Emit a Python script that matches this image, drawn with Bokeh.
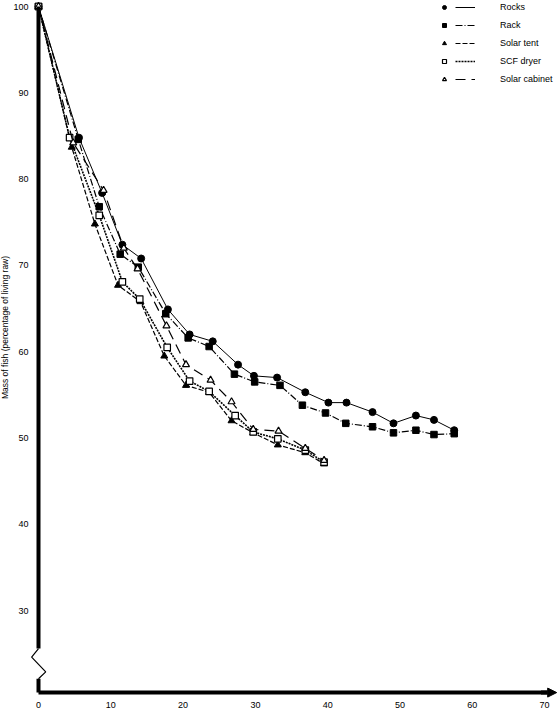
from bokeh.plotting import figure
from bokeh.models import (Range1d, FixedTicker, Legend, LegendItem, Arrow,
                          NormalHead, LinearAxis)
from bokeh.embed import file_html
from bokeh.resources import INLINE

# ---------------- data (time in hours, mass in % of living raw fish) -------------
rocks_t = [0, 5.6, 8.8, 11.6, 14.2, 17.9, 20.9, 24.1, 27.6, 29.8, 33.0, 36.9, 40.1, 42.6, 46.2, 49.1, 52.2, 54.7, 57.5]
rocks_m = [100, 84.8, 78.4, 72.4, 70.8, 64.9, 62.0, 61.2, 58.5, 57.2, 57.0, 55.3, 54.1, 54.1, 53.0, 51.7, 52.6, 52.1, 50.9]

rack_t = [0, 5.5, 8.4, 11.3, 13.8, 17.6, 20.7, 23.6, 27.1, 29.9, 33.4, 36.5, 39.7, 42.5, 46.2, 49.1, 52.2, 54.7, 57.5]
rack_m = [100, 84.6, 76.8, 71.3, 69.8, 64.4, 61.6, 60.6, 57.4, 56.5, 56.1, 53.8, 52.9, 51.7, 51.3, 50.6, 50.9, 50.4, 50.5]

tent_t = [0, 4.6, 7.8, 11.0, 14.1, 17.4, 20.4, 23.6, 26.7, 29.7, 33.1, 36.9, 39.5]
tent_m = [100, 83.7, 74.8, 67.7, 65.8, 59.5, 56.1, 55.3, 52.0, 50.6, 49.2, 48.3, 47.0]

scf_t = [0, 4.3, 8.4, 11.6, 14.0, 17.8, 20.9, 23.6, 27.2, 29.7, 33.1, 36.9, 39.5]
scf_m = [100, 84.8, 75.8, 68.1, 66.1, 60.5, 56.6, 55.4, 52.6, 50.7, 49.9, 48.6, 47.2]

cab_t = [0, 4.8, 9.0, 11.8, 13.7, 17.7, 20.4, 23.8, 26.7, 29.7, 33.2, 36.9, 39.5]
cab_m = [100, 84.2, 78.7, 72.0, 69.6, 63.0, 58.5, 56.7, 54.2, 51.0, 50.8, 48.8, 47.4]

series_names = ["Rocks", "Rack", "Solar tent", "SCF dryer", "Solar cabinet"]
x_ticks = [0, 10, 20, 30, 40, 50, 60, 70]
y_ticks = [30, 40, 50, 60, 70, 80, 90, 100]
y_axis_title = "Mass of fish (percentage of living raw)"

# ---------------- layout -------------------------------------------------------
W, H = 558, 715
x0_px, xscale = 38.0, 7.23       # pixel of x=0, pixels per hour
y100_px, yscale = 6.0, 8.63      # pixel of y=100 from top, pixels per %
x_start = -x0_px / xscale
x_end = (W - x0_px) / xscale
y_end = 100 + y100_px / yscale
y_start = 100 - (H - y100_px) / yscale
axis_y = 20.5                    # level where the (broken) y axis meets the x axis
break_top, break_left, break_right, break_bot = 25.6, 24.6, 22.9, 22.1

FONT = "Liberation Sans"

p = figure(width=W, height=H, x_range=Range1d(x_start, x_end),
           y_range=Range1d(y_start, y_end), output_backend="svg",
           toolbar_location=None, x_axis_location=None, y_axis_location=None,
           min_border=0, min_border_left=0, min_border_right=0,
           min_border_top=0, min_border_bottom=0)
p.outline_line_color = None
p.xgrid.visible = False
p.ygrid.visible = False
p.background_fill_color = "white"

# y axis (upper part, above the break)
yaxis = LinearAxis(fixed_location=0, bounds=(break_top, 100),
                   ticker=FixedTicker(ticks=y_ticks), axis_label=y_axis_title)
yaxis.axis_line_width = 4
yaxis.axis_line_color = "black"
yaxis.major_tick_line_color = None
yaxis.minor_tick_line_color = None
yaxis.major_label_standoff = 4
yaxis.major_label_text_font = FONT
yaxis.major_label_text_font_size = "9px"
yaxis.major_label_text_color = "black"
yaxis.axis_label_text_font = FONT
yaxis.axis_label_text_font_size = "8.5px"
yaxis.axis_label_text_font_style = "normal"
yaxis.axis_label_text_color = "black"
yaxis.axis_label_standoff = 0
p.add_layout(yaxis, "left")

xaxis = LinearAxis(fixed_location=axis_y, bounds=(0, 70.4),
                   ticker=FixedTicker(ticks=x_ticks))
xaxis.axis_line_width = 4
xaxis.axis_line_color = "black"
xaxis.major_tick_line_color = None
xaxis.minor_tick_line_color = None
xaxis.major_label_standoff = 3
xaxis.major_label_text_font = FONT
xaxis.major_label_text_font_size = "9px"
xaxis.major_label_text_color = "black"
p.add_layout(xaxis, "below")

# arrow head at end of x axis
p.add_layout(Arrow(end=NormalHead(size=9, fill_color="black", line_color="black"),
                   x_start=69.5, y_start=axis_y, x_end=x_end - 0.25, y_end=axis_y,
                   line_width=4, line_color="black"))

# broken-axis stub and zig-zag
p.line([0, 0], [axis_y, break_bot], line_width=4, line_color="black")
p.line([0, -0.95, 1.0, 0], [break_top, break_left, break_right, break_bot],
       line_width=1.2, line_color="black")

# ---------------- series -------------------------------------------------------
lr, mr = [], []
lr.append(p.line(rocks_t, rocks_m, line_color="black", line_width=1))
mr.append(p.scatter(rocks_t, rocks_m, marker="circle", size=7,
                    fill_color="black", line_color="black"))

lr.append(p.line(rack_t, rack_m, line_color="black", line_width=1.2,
                 line_dash="7 2 1 2"))
mr.append(p.scatter(rack_t, rack_m, marker="square", size=6.5,
                    fill_color="black", line_color="black"))

lr.append(p.line(tent_t, tent_m, line_color="black", line_width=1.2,
                 line_dash="5 2"))
mr.append(p.scatter(tent_t, tent_m, marker="triangle", size=7,
                    fill_color="black", line_color="black"))

lr.append(p.line(scf_t, scf_m, line_color="black", line_width=1.6,
                 line_dash="2 1"))
mr.append(p.scatter(scf_t, scf_m, marker="square", size=6.5,
                    fill_color="white", line_color="black", line_width=1.2))

lr.append(p.line(cab_t, cab_m, line_color="black", line_width=1.2,
                 line_dash="10 6"))
mr.append(p.scatter(cab_t, cab_m, marker="triangle", size=7,
                    fill_color="white", line_color="black", line_width=1.2))

# ---------------- legend (markers left of lines) --------------------------------
leg_h = 5 * 12 + 4 * 6
leg_y = H - 1 - leg_h
leg_common = dict(glyph_height=12, label_height=12, spacing=6, padding=0,
                  margin=0, border_line_color=None, background_fill_alpha=0,
                  label_text_font=FONT, label_text_font_size="9px",
                  label_text_color="black")

leg_markers = Legend(items=[LegendItem(label=" ", renderers=[r]) for r in mr],
                     location=(439, leg_y), glyph_width=10, label_standoff=0,
                     **leg_common)
leg_lines = Legend(items=[LegendItem(label=n, renderers=[r])
                          for n, r in zip(series_names, lr)],
                   location=(455, leg_y), glyph_width=20, label_standoff=25,
                   **leg_common)
p.add_layout(leg_markers)
p.add_layout(leg_lines)

open("out.html", "w").write(file_html(p, INLINE))
